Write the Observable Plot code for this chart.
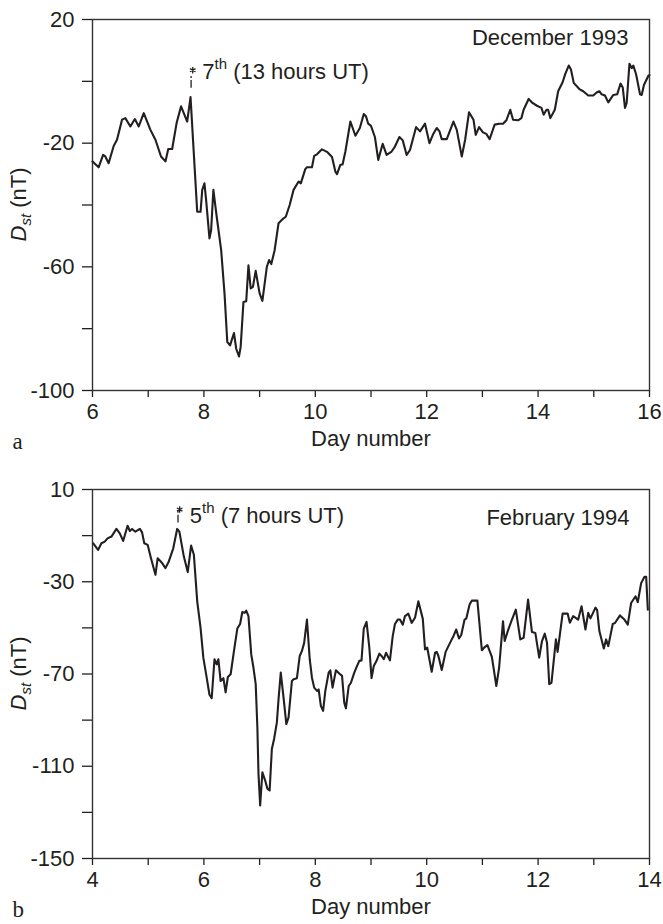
<!DOCTYPE html>
<html>
<head>
<meta charset="utf-8">
<script src="https://cdn.jsdelivr.net/npm/d3@7"></script>
<script src="https://cdn.jsdelivr.net/npm/@observablehq/plot@0.6"></script>
<style>
  html, body { margin: 0; padding: 0; background: #ffffff; }
  #chart svg { display: block; }
</style>
</head>
<body>
<div id="chart"></div>
<script>
// ---------- Panel a: December 1993 ----------
const decDay = [6.00,6.11,6.19,6.23,6.29,6.38,6.44,6.53,6.59,6.68,6.76,6.83,6.92,7.04,7.13,7.23,7.31,7.36,7.43,7.51,7.59,7.70,7.76,
  7.88,7.94,7.97,8.01,8.04,8.10,8.13,8.17,8.23,8.31,8.37,8.42,8.47,8.54,8.58,8.63,8.66,8.71,8.76,8.80,8.84,8.88,8.93,9.00,9.05,
  9.13,9.17,9.21,9.27,9.34,9.43,9.47,9.54,9.61,9.70,9.74,9.82,9.85,9.94,9.98,10.03,10.12,10.21,10.30,10.36,10.39,10.45,10.49,
  10.54,10.63,10.72,10.80,10.87,10.91,10.95,11.00,11.07,11.13,11.21,11.28,11.37,11.43,11.51,11.57,11.64,11.70,11.81,11.88,11.97,
  12.05,12.11,12.18,12.23,12.27,12.36,12.48,12.54,12.63,12.69,12.76,12.84,12.88,12.94,13.01,13.07,13.13,13.22,13.30,13.37,13.43,
  13.50,13.55,13.64,13.70,13.74,13.83,13.90,13.98,14.06,14.10,14.15,14.18,14.22,14.30,14.36,14.44,14.49,14.55,14.59,14.64,14.74,
  14.81,14.90,14.99,15.05,15.10,15.14,15.20,15.26,15.35,15.42,15.48,15.52,15.56,15.59,15.64,15.68,15.71,15.76,15.83,15.86,15.90,
  15.98,16.00];
const decDst = [-25.9,-27.8,-23.8,-24.3,-26.5,-20.9,-18.9,-12.4,-11.9,-14.6,-12.2,-14.6,-10.3,-15.7,-18.9,-24.3,-25.9,-21.9,-21.9,-13.5,-8.1,-13.0,-5.1,
  -42.2,-42.2,-35.1,-33.0,-38.4,-50.8,-48.1,-35.1,-43.8,-54.6,-68.6,-84.3,-85.4,-81.4,-86.5,-89.0,-85.9,-71.4,-71.1,-59.5,-67.0,-66.5,-61.3,-68.6,-71.0,
  -60.0,-57.8,-59.1,-54.6,-45.9,-44.3,-43.8,-40.0,-35.1,-32.4,-33.0,-28.4,-27.8,-27.8,-24.1,-23.6,-22.0,-22.8,-24.5,-29.2,-30.0,-27.0,-26.9,
  -22.7,-13.0,-17.6,-15.1,-10.6,-11.3,-13.7,-14.4,-18.0,-25.4,-20.2,-23.8,-22.7,-21.1,-18.0,-19.1,-23.8,-22.2,-14.8,-16.2,-13.7,
  -20.0,-17.3,-15.1,-16.2,-18.7,-18.7,-13.0,-15.7,-24.3,-18.9,-10.0,-12.4,-17.3,-14.8,-16.5,-17.0,-18.7,-14.0,-13.7,-13.7,-12.6,
  -9.2,-12.4,-12.6,-11.9,-9.2,-5.7,-7.0,-7.9,-8.6,-10.8,-9.2,-9.2,-11.9,-9.2,-3.2,-0.3,2.5,5.1,3.8,-0.5,-2.5,
  -3.2,-4.6,-4.6,-3.6,-3.2,-4.2,-4.6,-6.8,-4.4,-4.2,-0.7,-2.0,-8.6,-7.0,5.7,4.3,5.1,2.2,-4.2,-4.4,-1.2,
  1.8,2.0];

// ---------- Panel b: February 1994 ----------
const febDay = [4.01,4.10,4.16,4.22,4.27,4.34,4.43,4.49,4.55,4.63,4.67,4.71,4.77,4.85,4.89,4.93,4.99,5.05,5.13,5.17,5.25,5.31,5.37,5.45,
  5.52,5.56,5.64,5.71,5.77,5.82,5.88,5.94,5.99,6.05,6.10,6.14,6.19,6.23,6.26,6.30,6.35,6.39,6.43,6.48,6.54,6.60,6.65,6.69,6.73,6.76,
  6.80,6.85,6.89,6.93,6.96,6.98,7.01,7.05,7.10,7.14,7.18,7.22,7.26,7.31,7.34,7.38,7.43,7.48,7.52,7.58,7.61,7.67,7.72,7.76,7.80,7.85,
  7.90,7.94,7.98,8.03,8.06,8.10,8.14,8.18,8.24,8.27,8.31,8.37,8.43,8.48,8.52,8.55,8.60,8.64,8.70,8.75,8.79,8.83,8.87,8.92,8.97,9.01,
  9.05,9.10,9.15,9.19,9.23,9.27,9.34,9.39,9.43,9.48,9.52,9.57,9.61,9.67,9.73,9.79,9.85,9.93,9.97,10.01,10.09,10.15,10.18,10.21,10.27,
  10.34,10.37,10.45,10.48,10.53,10.58,10.62,10.68,10.71,10.77,10.81,10.91,10.99,11.03,11.09,11.17,11.25,11.30,11.37,11.40,11.46,11.52,
  11.60,11.68,11.74,11.82,11.89,11.95,12.02,12.07,12.12,12.16,12.20,12.24,12.32,12.35,12.44,12.53,12.57,12.63,12.72,12.78,12.85,12.90,
  12.94,13.03,13.06,13.10,13.18,13.22,13.26,13.34,13.38,13.47,13.55,13.61,13.67,13.75,13.79,13.85,13.91,13.94,13.97];
const febDst = [-13.3,-16.2,-13.3,-12.6,-11.2,-10.4,-7.1,-9.0,-12.3,-5.7,-8.0,-7.1,-8.3,-7.1,-8.6,-13.3,-14.0,-19.8,-27.0,-19.8,-21.9,-24.1,-21.2,-15.5,
  -7.1,-8.3,-19.1,-25.8,-14.3,-18.3,-38.5,-50.0,-62.9,-71.6,-79.0,-80.5,-63.6,-65.8,-63.6,-73.0,-71.8,-78.0,-71.3,-70.1,-60.0,-50.3,-48.3,-43.1,-43.5,-42.5,
  -44.9,-61.5,-67.3,-74.4,-93.2,-113.3,-127.0,-112.6,-116.2,-119.7,-120.5,-102.5,-98.2,-91.0,-80.9,-69.4,-80.2,-91.7,-88.8,-73.0,-72.3,-71.8,-62.2,-60.0,-56.5,-46.4,
  -63.6,-71.6,-75.9,-77.3,-76.7,-83.8,-86.0,-77.3,-69.4,-68.4,-75.9,-68.4,-69.8,-70.8,-82.4,-84.9,-75.2,-73.8,-69.4,-66.5,-64.3,-64.1,-50.3,-47.4,-58.6,-71.8,
  -66.5,-64.3,-61.2,-62.2,-63.6,-60.8,-64.1,-53.6,-48.3,-46.4,-46.4,-48.6,-44.9,-43.8,-47.8,-45.6,-38.5,-46.1,-59.3,-58.6,-69.0,-60.8,-60.4,-62.2,-68.3,
  -60.4,-58.9,-55.0,-53.6,-50.7,-54.6,-53.1,-46.4,-46.0,-39.9,-38.2,-38.2,-59.7,-58.6,-57.5,-62.6,-75.2,-67.3,-47.1,-55.7,-51.1,-47.1,
  -42.1,-55.0,-54.3,-37.7,-51.8,-52.2,-62.9,-55.7,-52.5,-56.4,-74.4,-73.8,-55.0,-60.4,-43.8,-43.8,-47.8,-44.9,-46.4,-40.6,-50.7,-43.5,
  -45.9,-41.2,-42.3,-51.4,-58.9,-55.0,-57.9,-48.3,-47.9,-44.6,-46.4,-48.6,-39.2,-36.3,-38.8,-30.6,-27.8,-27.8,-42.1];

// ---------- Tick labels ----------
const decXTickLabels = [6, 8, 10, 12, 14, 16];
const decYTickLabels = [20, -20, -60, -100];
const febXTickLabels = [4, 6, 8, 10, 12, 14];
const febYTickLabels = [10, -30, -70, -110, -150];

// ---------- Texts ----------
const decTitle = "December 1993";
const febTitle = "February 1994";
const decNote = ["7", "th", " (13 hours UT)"];
const febNote = ["5", "th", " (7 hours UT)"];
const xTitle = "Day number";
const yTitle = ["D", "st", " (nT)"];
const panelLetters = ["a", "b"];

// annotation anchor values (day, Dst)
const decMark = {day: 7.80, dst: 3.6, ruleDay: 7.77, ruleTop: 1.6, ruleBottom: -2.2, textDay: 7.98, textDst: 0.55};
const febMark = {day: 5.565, dst: 1.3, ruleDay: 5.535, ruleTop: 0.6, ruleBottom: -4.5, textDay: 5.755, textDst: -4.8};

const INK = "#231f20";
const FONT = "'Liberation Sans', Arial, Helvetica, sans-serif";

function panel(cfg) {
  const data = cfg.days.map((d, i) => ({day: d, dst: cfg.dst[i]}));
  const xTicks = d3.range(cfg.xDomain[0], cfg.xDomain[1] + 0.001, 1);
  const yTicks = d3.range(cfg.yDomain[0], cfg.yDomain[1] + 0.001, 20);
  const m = cfg.mark;
  const chart = Plot.plot({
    width: 663,
    height: cfg.height,
    marginTop: cfg.marginTop,
    marginBottom: cfg.marginBottom,
    marginLeft: 92,
    marginRight: 14,
    style: {fontFamily: FONT, fontSize: "22px", color: INK, background: "#ffffff", overflow: "visible"},
    x: {domain: cfg.xDomain},
    y: {domain: cfg.yDomain},
    marks: [
      Plot.axisX({ticks: xTicks, tickSize: 7, tickPadding: 6, strokeWidth: 1.3,
        tickFormat: d => cfg.xLabels.includes(d) ? String(d) : "", label: null, fontSize: 22}),
      Plot.axisY({ticks: yTicks, tickSize: 10, tickPadding: 8, strokeWidth: 1.3,
        tickFormat: d => cfg.yLabels.includes(d) ? String(d) : "", label: null, fontSize: 22}),
      Plot.frame({stroke: "#333333", strokeWidth: 1.4}),
      Plot.line(data, {x: "day", y: "dst", stroke: INK, strokeWidth: 2.1}),
      Plot.ruleX([m], {x: "ruleDay", y1: "ruleTop", y2: "ruleBottom", stroke: INK, strokeWidth: 1.3, strokeDasharray: "2,2,9,0"}),
      Plot.dot([m], {x: "day", y: "dst", symbol: "asterisk", r: 3, stroke: INK, strokeWidth: 1.3}),
      Plot.text([cfg.title], {frameAnchor: "top-right", lineAnchor: "top", dx: cfg.titleDx, dy: cfg.titleDy,
        text: d => d, fontSize: 22, fill: INK, fontFamily: FONT}),
      Plot.text([xTitle], {frameAnchor: "bottom", lineAnchor: "top", dy: 40, text: d => d, fontSize: 22, fill: INK, fontFamily: FONT}),
      Plot.text([cfg.letter], {frameAnchor: "bottom-left", lineAnchor: "top", dx: -80, dy: 42, textAnchor: "start",
        text: d => d, fontSize: 23, fill: INK, fontFamily: "'Liberation Serif', 'DejaVu Serif', serif"})
    ]
  });

  const svg = d3.select(chart);
  const xs = chart.scale("x"), ys = chart.scale("y");
  // annotation with superscript
  const t = svg.append("text")
    .attr("x", xs.apply(m.textDay)).attr("y", ys.apply(m.textDst))
    .attr("text-anchor", "start")
    .attr("font-size", 22).attr("fill", INK).attr("font-family", FONT)
    .style("white-space", "pre");
  t.append("tspan").text(cfg.note[0]);
  t.append("tspan").attr("font-size", 15).attr("dy", -10).text(cfg.note[1]);
  t.append("tspan").attr("dy", 10).text(cfg.note[2]);

  // y-axis title with italic subscript
  const yMid = (ys.apply(cfg.yDomain[0]) + ys.apply(cfg.yDomain[1])) / 2;
  const yt = svg.append("text")
    .attr("transform", `translate(26,${yMid}) rotate(-90)`)
    .attr("text-anchor", "middle")
    .attr("font-size", 22).attr("fill", INK).attr("font-family", FONT)
    .style("white-space", "pre");
  yt.append("tspan").attr("font-style", "italic").text(yTitle[0]);
  yt.append("tspan").attr("font-style", "italic").attr("font-size", 15).attr("dy", 5).text(yTitle[1]);
  yt.append("tspan").attr("dy", -5).text(yTitle[2]);
  return chart;
}

const root = document.getElementById("chart");
root.append(panel({
  days: decDay, dst: decDst, xDomain: [6, 16], yDomain: [-100, 20],
  xLabels: decXTickLabels, yLabels: decYTickLabels,
  height: 462, marginTop: 19, marginBottom: 72,
  title: decTitle, titleDx: -21, titleDy: 10, note: decNote, mark: decMark, letter: panelLetters[0]
}));
root.append(panel({
  days: febDay, dst: febDst, xDomain: [4, 14], yDomain: [-150, 10],
  xLabels: febXTickLabels, yLabels: febYTickLabels,
  height: 462, marginTop: 27, marginBottom: 66,
  title: febTitle, titleDx: -20, titleDy: 20, note: febNote, mark: febMark, letter: panelLetters[1]
}));
</script>
</body>
</html>
